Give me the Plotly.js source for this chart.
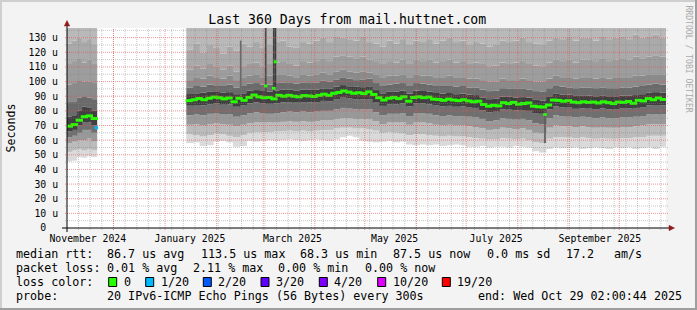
<!DOCTYPE html>
<html><head><meta charset="utf-8">
<script src="https://cdn.plot.ly/plotly-3.0.1.min.js"></script>
<style>html,body{margin:0;padding:0;background:#f3f3f3;}#chart{width:697px;height:310px;}</style>
</head><body><div id="chart"></div>
<script>
// ================= DATA =================
const rangeStart = '2024-11-03 02:00:44';
const rangeEnd   = '2025-10-29 02:00:44';

// smoke bins: segment 1 = 6 bins of 3 days, segment 2 = 72 bins of 4 days
const smokeSegments = [['2024-11-03', 3, 6], ['2025-01-14', 4, 72]];
// median bins: segment 1 = 6 bins of 3 days, segment 2 = 96 bins of 3 days
const medianSegments = [['2024-11-03', 3, 6], ['2025-01-14', 3, 96]];

// smoke boundaries (microseconds), bottom -> top
const smokeL0 = [45.5,46,48.5,48,49,48.5,
 58,58.5,56,56.5,59,59.5,58.5,55.5,56,59.5,59,59.5,
 60,59.5,60,60.5,60,59.5,60,60.5,60,59.5,60.5,62,
 63,62,59.5,59,58.5,59,59.5,58.5,59,57,56.5,57,
 56.5,57,56,56.5,57,56.5,55.5,55.5,56,55,55.5,55.5,
 55,56,55.5,55,52.5,51.5,54,55,54.5,54.5,55,54,
 54.5,55,54.5,54,55,54.5,55,54,54.5,55,54,55.5];
const smokeL1 = [52,53,54,53,54,53,
 64,63.5,62.5,63.5,64.5,64,63,62,63.5,65,65.5,65.5,
 65.5,66,66,66.5,66,66.5,66,66.5,67,67,68,68.5,
 68.5,68,68,67.5,66.5,65,65.5,65,64.5,63.5,64,64,
 63.5,63,62.5,63,62.5,62.5,62,61.5,61,60.5,60.5,61.5,
 61,60.5,61,60,58.5,58,61,62,62,62,61.5,62,
 61.5,61,61.5,61,61,61.5,61.5,62,62,63,63,63];
const smokeL2 = [58,59,60,60,61,59,
 70.5,71,70,71,71.5,71,70.5,69.5,70.5,71.5,72,72,
 72,72,72.5,73,72.5,73,72.5,73,73.5,73.5,74.5,75,
 75,74.5,74.5,74.5,73,71,72,72,72,70.5,72,72,
 71.5,70.5,70,70.5,70,70,69.5,69,68,67,67.5,68.5,
 68,67.5,68,67,65,64.5,68.5,70,69.5,69.5,69,69.5,
 69,68.5,69,68.5,68.5,69,69,69.5,70,71,71,71];
const smokeL3 = [62,63,65,67,67,65,
 77,77.5,77,78,78.5,77.5,77.5,76,77,78.5,79,78.5,
 78,78.5,79,79.5,79,79.5,79,79.5,80,80,81,82,
 81.5,81,81,81,79,77,78,78,78.5,76.5,78.5,78.5,
 78,77,76.5,77,76.5,76.5,76,75.5,74.5,73,73.5,75,
 74.5,74,74.5,73.5,71.5,71,75,77,76.5,76,75.5,76,
 75.5,75,75.5,75,75,75.5,75.5,76,76.5,77.5,77.5,77.5];
const smokeL4 = [66,67,70,72,72,70,
 83.5,84,83.8,84.6,85,84.2,84.5,82.8,83.6,85.2,85.8,85,
 84.8,85.2,85.8,86,85.6,86,85.8,86,86.8,86.5,88,89,
 88.4,88,87.8,88,85.6,83.4,84.6,84.4,85.2,83,85,85,
 84.5,83.6,83,83.4,82.8,83,82.2,82,80.5,79,79.4,81,
 80.8,80.4,80.6,80,78.5,78,81,83,82.5,82.2,81.4,81.8,
 81.5,81.2,81.8,81,81.2,81.6,81.6,82,82.6,83.8,84,83.8];
const smokeU1 = [76,77,80,83,82,80,
 91.5,92,92.4,93,93.4,92.6,92.8,91.4,92,93.8,94.2,93.6,
 93.2,94,94.4,94.6,94,94.6,94.4,94.6,95.4,95,96.5,97.6,
 96.8,96.4,96.2,96.8,94.2,92,93,93.2,93.8,91.8,93.8,93.6,
 93.2,92.2,91.8,92.2,91.4,91.8,91,90.8,89.2,88,88.2,89.8,
 89.6,89.2,89.4,89,87.5,87,90,91.6,91.2,91,90.2,90.6,
 90.4,90,90.6,90,90,90.4,90.4,90.8,91.4,92.6,92.8,92.4];
const smokeU2 = [86,86,89,90,89,88,
 96,97,96.5,98,97.5,97,98,96,97,98.5,99,98,
 98,99,99.5,99,98.5,99.5,99,99.5,100.5,100,101.5,102.5,
 102,101,101.5,102,99,97,98,98.5,99,97,99,98.5,
 98,97,97,97.5,96.5,97,96,96,94.5,93.5,94,95.5,
 95,95,95,94.5,93.5,93,95.5,97,96.5,96,95.5,96,
 96,95.5,96,95.5,95.5,96,96,96.5,97,98,98.5,98];
const smokeU3 = [98,99,101,100,100,99,
 101,103,102,104,103,102,104,101,103,104,105,103,
 104,105,105,104,103,105,104,105,106,105,107,108,
 107,106,107,106,105,103,104,104,105,103,105,104,
 104,103,103,104,103,103,102,102,101,100,100,102,
 101,101,102,101,100,100,102,104,103,103,102,103,
 103,102,103,102,103,103,103,104,104,105,105,105];
const smokeU4 = [112,114,116,113,115,112,
 108,111,109,112,110,108,111,107,110,112,113,110,
 112,113,114,112,111,114,113,114,116,114,117,118,
 117,116,117,115,114,112,114,113,115,112,115,114,
 115,113,114,115,113,114,112,113,112,110,111,113,
 112,113,114,112,111,110,113,115,114,115,113,115,
 115,114,116,114,115,116,115,117,116,117,118,117];
const smokeU5 = [126,128,130,127,129,125,
 122,126,120,125,123,119,124,121,126,124,127,123,
 125,127,128,124,123,127,126,128,130,127,131,130,
 129,128,131,127,126,124,128,126,129,125,128,127,
 129,126,128,130,127,128,125,127,126,124,125,128,
 127,128,130,127,126,125,128,130,129,131,128,130,
 130,128,131,129,130,131,129,132,130,131,132,130];

// median RTT (microseconds), loss 0/20
const medianRtt = [69.6,70.6,73.6,76.0,76.6,74.8,
 87.0,87.6,88.4,87.6,88.6,89.4,89.0,88.2,88.8,86.2,88.6,87.2,
 89.2,90.8,89.6,89.0,89.2,88.2,90.6,90.0,90.6,90.0,89.6,90.4,
 90.2,89.8,90.6,91.4,90.6,92.0,92.6,93.6,92.8,92.0,92.4,91.8,
 93.0,91.2,89.0,87.4,88.6,89.2,88.4,89.6,86.6,89.2,89.6,89.0,
 89.4,88.0,87.8,87.2,88.0,87.4,87.0,87.6,86.8,86.2,86.6,84.4,
 83.2,83.8,83.4,85.6,85.0,85.8,84.6,85.0,85.4,83.2,82.8,82.6,
 84.0,87.4,87.2,86.6,87.0,86.0,85.6,86.2,85.8,86.0,85.4,86.2,
 85.6,85.0,86.0,85.8,86.4,85.2,87.2,86.8,88.4,87.6,88.8,87.8];

// single-day outliers
const spikeDates = ['2025-02-15 12:00','2025-03-02 12:00','2025-03-07 08:00','2025-03-08 08:00','2025-08-17 08:00'];
const spikeLow   = [90, 93, 88, 96, 58];
const spikeHigh  = [128, 137, 137, 137, 80];
const spikeMed   = [null, 97.0, 95.4, 113.5, 77.5];

// median with 1/20 loss
const lossDates = ['2024-11-20 18:00'];
const lossMed   = [68.5];

const yTickVals = [0,10,20,30,40,50,60,70,80,90,100,110,120,130];
const yTickText = ['0\u00a0\u00a0','10 u','20 u','30 u','40 u','50 u','60 u','70 u','80 u','90 u','100 u','110 u','120 u','130 u'];
const xTickVals = ['2024-11-15 14:00','2025-01-16 00:00','2025-03-18 14:00','2025-05-19 00:00','2025-07-19 00:00','2025-09-19 08:00'];
const xTickText = ['November 2024','January 2025','March 2025','May 2025','July 2025','September 2025'];

const lossNames  = ['0','1/20','2/20','3/20','4/20','10/20','19/20'];
const lossColors = ['#26ff00','#00b8ff','#0059ff','#5e00ff','#7e00ff','#dd00ff','#ff0000'];

// ================= RENDERING =================
const DAY = 864e5;
function ms(s){ return Date.parse(s.length===10 ? s+'T00:00:00Z' : s.replace(' ','T')+'Z'); }
function iso(m){ return new Date(m).toISOString().slice(0,19).replace('T',' '); }
function bins(segs){
  const c=[], w=[];
  segs.forEach(([st,d,n])=>{ const s0=ms(st); for(let i=0;i<n;i++){ c.push(iso(s0+(i+0.5)*d*DAY)); w.push(d*DAY);} });
  return {c,w};
}
const sb = bins(smokeSegments), mb = bins(medianSegments);
const OVERLAP = 0.45*DAY;   // hides anti-aliasing seams between neighbouring bins
const TOP = 140;
const levels = [smokeL0,smokeL1,smokeL2,smokeL3,smokeL4,smokeU1,smokeU2,smokeU3,smokeU4,smokeU5];
const bandColors = ['#dadada','#bcbcbc','#999999','#6f6f6f','#404040','#6a6a6a','#8b8b8b','#9d9d9d','#aaaaaa','#b9b9b9'];
const traces = [];
for(let k=0;k<levels.length;k++){
  const lo = levels[k];
  const hi = k+1<levels.length ? levels[k+1] : lo.map(()=>TOP);
  traces.push({type:'bar', x:sb.c, base:lo, y:hi.map((v,i)=>v-lo[i]), width:sb.w.map(w=>w+OVERLAP),
    marker:{color:bandColors[k], line:{width:0}}, hoverinfo:'skip', showlegend:false});
}
traces.push({type:'bar', x:spikeDates, base:spikeLow, y:spikeHigh.map((v,i)=>v-spikeLow[i]), width:spikeDates.map(()=>DAY),
  marker:{color:['#6a6a6a','#444444','#404040','#383838','#585858'], line:{width:0}}, hoverinfo:'skip', showlegend:false});
traces.push({type:'scatter', mode:'markers', x:mb.c, y:medianRtt,
  marker:{symbol:'line-ew', size:5.2, line:{color:lossColors[0], width:3}}, hoverinfo:'skip', showlegend:false});
traces.push({type:'scatter', mode:'markers', x:spikeDates, y:spikeMed,
  marker:{symbol:'line-ew', size:2.5, line:{color:lossColors[0], width:3}}, hoverinfo:'skip', showlegend:false});
traces.push({type:'scatter', mode:'markers', x:lossDates, y:lossMed,
  marker:{symbol:'line-ew', size:2.5, line:{color:lossColors[1], width:3}}, hoverinfo:'skip', showlegend:false});

// pixel -> paper helpers (plot area 67..666 x 28..228)
const L=67, W=599, B=228, H=200;
const px = x => (x-L)/W, py = y => (B-y)/H;
const MONO = 'DejaVu Sans Mono';
const shapes = [];
const gridGray = 'rgba(130,130,130,0.45)', gridRed = 'rgba(230,80,80,0.6)';
// horizontal grid
for(let v=5; v<136; v+=10) shapes.push({type:'line', xref:'paper', yref:'y', x0:px(65), x1:px(669), y0:v, y1:v, layer:'above', line:{color:gridGray, width:1, dash:'1px,1px'}});
for(let v=10; v<136; v+=10) shapes.push({type:'line', xref:'paper', yref:'y', x0:px(65), x1:px(669), y0:v, y1:v, layer:'above', line:{color:gridRed, width:1, dash:'1px,1px'}});
// vertical grid: weeks (Sundays) and months
const r0 = ms(rangeStart), r1 = ms(rangeEnd);
for(let t=ms('2024-11-10'); t<r1; t+=7*DAY) shapes.push({type:'line', xref:'x', yref:'paper', x0:iso(t), x1:iso(t), y0:py(230), y1:1, layer:'above', line:{color:gridGray, width:1, dash:'1px,1px'}});
['2024-12-01','2025-01-01','2025-02-01','2025-03-01','2025-04-01','2025-05-01','2025-06-01','2025-07-01','2025-08-01','2025-09-01','2025-10-01'].forEach(d=>
  shapes.push({type:'line', xref:'x', yref:'paper', x0:d, x1:d, y0:py(230), y1:1, layer:'above', line:{color:gridRed, width:1, dash:'1px,1px'}}));
// axes
shapes.push({type:'line', xref:'paper', yref:'paper', x0:px(62), x1:px(669), y0:0, y1:0, layer:'above', line:{color:'#000', width:1}});
shapes.push({type:'line', xref:'paper', yref:'paper', x0:0, x1:0, y0:py(232), y1:py(25), layer:'above', line:{color:'#000', width:1}});
const arrowC = '#8c1c1c';
shapes.push({type:'path', xref:'paper', yref:'paper', layer:'above', fillcolor:arrowC, line:{color:arrowC, width:0.5},
  path:`M${px(64.3)},${py(26)} L${px(69.7)},${py(26)} L${px(67)},${py(20.5)} Z`});
shapes.push({type:'path', xref:'paper', yref:'paper', layer:'above', fillcolor:arrowC, line:{color:arrowC, width:0.5},
  path:`M${px(669)},${py(225.3)} L${px(669)},${py(230.7)} L${px(674.5)},${py(228)} Z`});
// frame
shapes.push({type:'rect', xref:'paper', yref:'paper', x0:px(0), x1:px(697), y0:py(0), y1:py(2), fillcolor:'#cfcfcf', line:{width:0}});
shapes.push({type:'rect', xref:'paper', yref:'paper', x0:px(0), x1:px(2), y0:py(0), y1:py(310), fillcolor:'#cfcfcf', line:{width:0}});
shapes.push({type:'rect', xref:'paper', yref:'paper', x0:px(0), x1:px(697), y0:py(308), y1:py(310), fillcolor:'#9e9e9e', line:{width:0}});
shapes.push({type:'rect', xref:'paper', yref:'paper', x0:px(695), x1:px(697), y0:py(0), y1:py(310), fillcolor:'#9e9e9e', line:{width:0}});

// legend text
const annotations = [];
function txt(x, y, s, size, extra){
  annotations.push(Object.assign({xref:'paper', yref:'paper', x:px(x), y:py(y), xanchor:'left', yanchor:'middle',
    text:s.replace(/ /g,'\u00a0'), showarrow:false, borderpad:0, borderwidth:0,
    font:{family:MONO, size:size, color:'#000'}}, extra||{}));
}
const LS = 11.7;
[[16,'median rtt:'],[107.3,'86.7 us avg'],[200.7,'113.5 us max'],[300,'68.3 us min'],[393.3,'87.5 us now'],[486.7,'0.0 ms sd'],[565.7,'17.2'],[614,'am/s']].forEach(([x,s])=>txt(x,254.3,s,LS));
[[16,'packet loss:'],[107.3,'0.01 % avg'],[193.3,'2.11 % max'],[278,'0.00 % min'],[365,'0.00 % now']].forEach(([x,s])=>txt(x,268.3,s,LS));
txt(16,282.3,'loss color:',LS);
const boxX = [108.7,145.7,203.3,261,319.3,377.7,442.3];
const labX = [124,160.7,218.3,276,334,392.7,457.3];
lossNames.forEach((n,i)=>{
  shapes.push({type:'rect', xref:'paper', yref:'paper', x0:px(boxX[i]), x1:px(boxX[i]+8), y0:py(286.5), y1:py(277.5), fillcolor:lossColors[i], line:{color:'#000', width:1}, layer:'above'});
  txt(labX[i],282.3,n,LS);
});
[[16,'probe:'],[107.3,'20 IPv6-ICMP Echo Pings (56 Bytes) every 300s'],[478.3,'end: Wed Oct 29 02:00:44 2025']].forEach(([x,s])=>txt(x,296,s,LS));
// y axis label and watermark
annotations.push({xref:'paper', yref:'paper', x:px(10.5), y:py(128), xanchor:'center', yanchor:'middle', textangle:-90,
  text:'Seconds', showarrow:false, font:{family:MONO, size:11.6, color:'#000'}});
annotations.push({xref:'paper', yref:'paper', x:px(688.5), y:py(59), xanchor:'center', yanchor:'middle', textangle:90,
  text:'RRDTOOL / TOBI OETIKER', showarrow:false, font:{family:MONO, size:8.1, color:'#aaaaaa'}});

const layout = {
  width:697, height:310, margin:{l:L, r:697-L-W, t:B-H, b:310-B, pad:0},
  paper_bgcolor:'#f3f3f3', plot_bgcolor:'#ffffff', barmode:'overlay', showlegend:false,
  title:{text:'Last 360 Days from mail.huttnet.com', font:{family:MONO, size:13.2, color:'#000'},
    x:347.3/697, xref:'container', xanchor:'center', y:1-19.5/310, yref:'container', yanchor:'middle'},
  xaxis:{type:'date', range:[rangeStart, rangeEnd], tickvals:xTickVals, ticktext:xTickText,
    ticks:'outside', ticklen:1, tickcolor:'rgba(0,0,0,0)', tickfont:{family:MONO, size:9.8, color:'#000'},
    showgrid:false, zeroline:false, showline:false, fixedrange:true},
  yaxis:{range:[0,136.6], tickvals:yTickVals, ticktext:yTickText,
    ticks:'outside', ticklen:6, tickcolor:'rgba(0,0,0,0)', tickfont:{family:MONO, size:9.8, color:'#000'},
    showgrid:false, zeroline:false, showline:false, fixedrange:true},
  shapes:shapes, annotations:annotations
};
Plotly.newPlot('chart', traces, layout, {staticPlot:true, displayModeBar:false});
</script></body></html>
